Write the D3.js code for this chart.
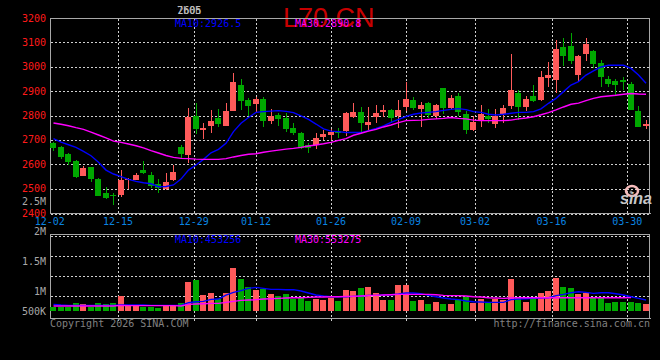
<!DOCTYPE html>
<html><head><meta charset="utf-8">
<style>html,body{margin:0;padding:0;background:#000;overflow:hidden}svg{display:block}
text{font-family:"DejaVu Sans Mono",monospace;font-size:10px}</style>
<script src="https://cdn.jsdelivr.net/npm/d3@7"></script></head><body>
<script>
const open=[2686,2669,2642,2612,2552,2589,2539,2482,2472,2474,2534,2535,2576,2556,2519,2498,2535,2671,2638,2798,2742,2757,2790,
2758,2818,2925,2864,2847,2868,2777,2802,2790,2749,2728,2679,2679,2712,2720,2736,2736,2794,2814,2761,2794,2814,2822,2798,2835,2864,2827,2851,2800,
2913,2831,2880,2806,2740,2781,2798,2765,2806,2839,2892,2835,2880,2864,2954,2946,3081,3085,2966,3052,3065,3015,2950,2942,2946,2929,2818,2758];
const high=[2690,2675,2645,2616,2593,2589,2542,2507,2482,2576,2542,2564,2613,2568,2539,2564,2597,2679,2829,2850,2771,2822,2826,
2853,2974,2950,2870,2875,2876,2827,2810,2810,2769,2732,2687,2728,2740,2744,2749,2814,2851,2835,2835,2843,2843,2826,2864,2937,2876,2855,2855,2847,
2913,2884,2892,2818,2800,2843,2827,2827,2843,3052,2905,2880,2925,2983,3020,3110,3118,3138,3048,3118,3069,3028,2962,2950,2958,2937,2839,2781];
const low=[2654,2621,2597,2545,2552,2528,2470,2457,2433,2466,2498,2534,2558,2502,2482,2494,2531,2624,2606,2724,2704,2730,2754,
2758,2818,2822,2798,2809,2753,2765,2757,2732,2720,2662,2646,2662,2699,2699,2708,2716,2790,2732,2740,2769,2794,2769,2749,2820,2822,2754,2790,2786,
2806,2822,2798,2724,2736,2753,2770,2749,2769,2827,2781,2818,2855,2860,2917,2892,3003,3011,2937,3024,2995,2917,2917,2884,2905,2823,2753,2745];
const close=[2668,2631,2609,2548,2584,2539,2470,2461,2469,2535,2539,2556,2564,2511,2502,2527,2568,2642,2795,2745,2749,2777,2765,
2818,2937,2860,2839,2868,2777,2798,2786,2745,2728,2668,2668,2708,2724,2732,2728,2810,2814,2768,2772,2810,2822,2790,2822,2868,2831,2843,2802,2843,
2831,2872,2814,2740,2773,2806,2786,2798,2831,2905,2835,2868,2860,2958,2966,3073,3044,3024,3044,3093,3011,2958,2929,2925,2937,2823,2753,2765];
const ma10=[2705,2691,2680,2669,2653,2635,2608,2576,2560,2549,2538,2530,2524,2520,2508,2509,2515,2539,2576,2597,2620,2647,2661,
2686,2734,2768,2792,2813,2816,2818,2820,2817,2812,2798,2784,2765,2745,2736,2734,2730,2730,2730,2738,2747,2757,2772,2784,2796,2805,2810,2813,2816,
2821,2825,2828,2824,2816,2813,2805,2802,2805,2809,2813,2813,2816,2827,2850,2870,2898,2925,2939,2966,2983,2999,3006,3006,3006,2993,2966,2932];
const ma30=[2769,2764,2758,2750,2743,2732,2720,2708,2695,2690,2683,2676,2667,2656,2646,2636,2628,2624,2623,2621,2620,2620,2620,
2623,2630,2636,2641,2643,2649,2654,2658,2662,2665,2669,2675,2679,2684,2690,2698,2705,2719,2727,2736,2743,2753,2761,2771,2779,2780,2781,2784,2786,
2788,2792,2788,2786,2781,2779,2779,2779,2779,2781,2786,2790,2795,2803,2812,2823,2835,2846,2851,2861,2870,2877,2880,2883,2887,2890,2888,2887];
const volume=[178,178,178,330,288,178,330,288,330,618,206,247,178,178,137,247,247,330,1195,1277,659,741,494,
728,1785,1318,989,865,906,700,618,700,508,535,412,494,453,535,412,865,824,947,989,741,453,453,1071,1071,412,453,288,371,
288,288,453,577,330,494,330,494,453,1318,577,371,577,741,824,1359,989,947,700,741,535,535,330,371,371,371,343,288];
const volMa10=[275,247,233,233,233,233,233,233,233,247,247,247,247,233,233,233,233,233,343,384,398,481,494,
659,769,838,934,975,934,892,892,879,879,824,741,659,618,590,590,590,604,618,645,645,659,673,700,741,741,714,645,590,
535,494,467,412,384,371,357,357,357,467,494,508,522,535,549,632,687,755,796,769,728,755,755,714,659,590,522,453];
const volMa30=[206,206,206,206,206,206,206,206,206,233,220,220,220,220,220,220,220,206,275,288,302,316,316,
357,398,439,453,467,494,508,522,535,549,549,563,577,577,590,590,604,604,618,632,645,659,673,686,686,686,686,686,673,
645,632,632,618,590,577,549,535,522,535,549,549,549,549,549,549,549,549,549,549,549,549,549,549,549,553];
const priceTicks=[3200,3100,3000,2900,2800,2700,2600,2500,2400];
const volGrid=[500,1000,1500,2000];
const volTickValues=[2500,2000,1500,1000,500];
const volTickLabels=["2.5M","2M","1.5M","1M","500K"];
const dateLabels=["12-02","12-15","12-29","01-12","01-26","02-09","03-02","03-16","03-30"];
const dateSlots=[-0.5,8.6,18.7,27,37,47,56.2,66.4,76.5];
const title="L70 CN", ma10Text="MA10:2926.5", ma30Text="MA30:2890.8";
const volMa10Text="MA10:453256", volMa30Text="MA30:553275";
const RED="#ff5a5a",GREEN="#00a800",GRID="#d0d0d0",FRAME="#a8a8a8";

const svg=d3.select("body").append("svg").attr("width",660).attr("height",360);
svg.append("rect").attr("width",660).attr("height",360).attr("fill","#000");
const x=d3.scaleLinear().domain([0,79]).range([53.5,646]);
const y=d3.scaleLinear().domain([2400,3200]).range([213,18]);
const vY=d3.scaleLinear().domain([0,2000]).range([311,262.5]);
const vGridY=d3.scaleLinear().domain([500,2000]).range([295.5,235.5]);
const vLabelY=d3.scaleLinear().domain([500,1000,2500]).range([311,291,201]);
const px=v=>Math.round(v)+.5;

svg.append("text").text(title).attr("x",283).attr("y",27)
  .style("font-family","'Liberation Sans',Arial,sans-serif").style("font-size","27px").attr("fill","#c80000");

// grid
const grid=svg.append("g").attr("stroke",GRID).attr("stroke-dasharray","2,2").attr("shape-rendering","crispEdges");
priceTicks.slice(1,-1).forEach(p=>grid.append("line").attr("x1",51).attr("x2",651).attr("y1",px(y(p))).attr("y2",px(y(p))));
grid.append("line").attr("x1",51).attr("x2",651).attr("y1",214.5).attr("y2",214.5);
volGrid.forEach(v=>grid.append("line").attr("x1",51).attr("x2",651).attr("y1",px(vGridY(v))).attr("y2",px(vGridY(v))));
dateSlots.slice(1).forEach(d=>{
  grid.append("line").attr("x1",px(x(d))).attr("x2",px(x(d))).attr("y1",19).attr("y2",214);
  grid.append("line").attr("x1",px(x(d))).attr("x2",px(x(d))).attr("y1",235).attr("y2",321);
});
// frames
const fr=svg.append("g").attr("stroke",FRAME).attr("fill","none").attr("shape-rendering","crispEdges");
fr.append("path").attr("d","M50.5,213.5V18.5H649.5V213.5");
fr.append("line").attr("x1",50).attr("x2",651).attr("y1",213.5).attr("y2",213.5);
fr.append("path").attr("d","M50.5,318.5V234.5H649.5V318.5");
fr.append("line").attr("x1",50).attr("x2",651).attr("y1",318.5).attr("y2",318.5);

// candles
const idx=d3.range(open.length);
const col=i=>close[i]>=open[i]?RED:GREEN;
const bx=i=>Math.floor(x(i))-3;
const c=svg.append("g").attr("shape-rendering","crispEdges");
c.selectAll("line").data(idx).join("line")
  .attr("x1",i=>bx(i)+3.5).attr("x2",i=>bx(i)+3.5)
  .attr("y1",i=>y(high[i])).attr("y2",i=>y(low[i])).attr("stroke",col);
c.selectAll("rect").data(idx).join("rect")
  .attr("x",bx).attr("width",6)
  .attr("y",i=>y(Math.max(open[i],close[i])))
  .attr("height",i=>Math.max(1,Math.abs(y(open[i])-y(close[i])))).attr("fill",col);
// volume
svg.append("g").attr("shape-rendering","crispEdges").selectAll("rect").data(idx).join("rect")
  .attr("x",bx).attr("width",6).attr("y",i=>vY(volume[i])).attr("height",i=>vY(0)-vY(volume[i])).attr("fill",col);
// lines
const pl=d3.line().x((d,i)=>x(i)).y(d=>y(d));
const vl=d3.line().x((d,i)=>x(i)).y(d=>vY(d));
[[ma10,pl,"#0000ff"],[ma30,pl,"#ff00ff"],[volMa10,vl,"#0000ff"],[volMa30,vl,"#ff00ff"]].forEach(([d,g,s])=>
  svg.append("path").attr("d",g(d)).attr("fill","none").attr("stroke",s).attr("stroke-width",1.4));

// labels
const T=(t,xx,yy,f,a)=>svg.append("text").text(t).attr("x",xx).attr("y",yy).attr("dy","0.36em").attr("fill",f).attr("text-anchor",a||"start");
priceTicks.forEach(p=>T(p,46,y(p),"#ff1a1a","end"));
volTickValues.forEach((v,i)=>T(volTickLabels[i],46,vLabelY(v),"#a8a8a8","end"));
dateLabels.forEach((d,i)=>T(d,x(dateSlots[i]),221.5,"#0a84e0","middle"));
T(ma10Text,175,23,"#0000ff");T(ma30Text,295,23,"#ff00ff");
T(volMa10Text,175,239,"#0000ff");T(volMa30Text,295,239,"#ff00ff");
T("Copyright 2026 SINA.COM",50,323.5,"#808080");
T("http://finance.sina.com.cn",650,323.5,"#808080","end");
// overlapped date stamp
T("7b0h",177,10,"#bdbdbd");T("2605",177.5,10,"#bdbdbd");
// watermark
const w=svg.append("g");
w.append("ellipse").attr("cx",632).attr("cy",191).attr("rx",6).attr("ry",5).attr("fill","none").attr("stroke","#f6bcbc").attr("stroke-width",2.5);
w.append("circle").attr("cx",631).attr("cy",192).attr("r",1.5).attr("fill","#808080");
w.append("text").text("sina").attr("x",620).attr("y",204)
  .style("font-family","'Liberation Sans',Arial,sans-serif").style("font-size","16px").style("font-weight","bold").style("font-style","italic").attr("fill","#c8c8c8");
</script></body></html>
